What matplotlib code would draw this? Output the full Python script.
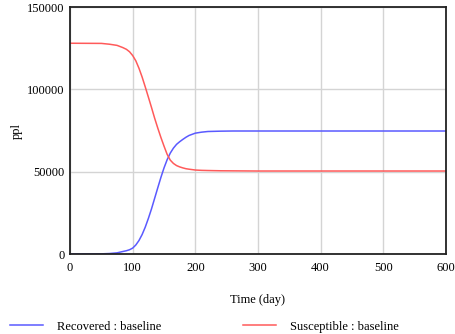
import matplotlib
matplotlib.use("Agg")
import matplotlib.pyplot as plt

# values (day, people)
days = [0, 50, 63, 75, 84, 90, 95, 100, 105, 110, 115, 120, 125, 130, 135,
        140, 145, 150, 155, 160, 165, 170, 175, 180, 185, 190, 200, 210, 220,
        240, 260, 300, 400, 500, 600]
susceptible = [128000, 127900, 127400, 126700, 125400, 124300, 122800, 120500,
               117300, 112800, 107500, 101500, 95300, 89000, 82500, 76500,
               70800, 65500, 60500, 57000, 55000, 53700, 52900, 52300, 51800,
               51500, 51000, 50800, 50700, 50550, 50500, 50400, 50400, 50400,
               50400]
recovered = [0, 100, 300, 700, 1500, 2000, 2600, 3600, 5500, 8200, 11800,
             16300, 21600, 27400, 33800, 40200, 46500, 52300, 57300, 61300,
             64300, 66600, 68200, 69600, 70900, 72000, 73400, 74000, 74400,
             74600, 74700, 74700, 74700, 74700, 74700]

plt.rcParams['font.family'] = ['Liberation Serif', 'DejaVu Serif']
plt.rcParams['font.size'] = 9

fig = plt.figure(figsize=(4.55, 3.34), dpi=100)
ax = fig.add_axes([0.154, 0.2395, 0.826, 0.7395])

line_r, = ax.plot(days, recovered, color='#5a5aff', lw=1.1, label='Recovered : baseline')
line_s, = ax.plot(days, susceptible, color='#ff5a5a', lw=1.1, label='Susceptible : baseline')

ax.set_xlim(0, 600)
ax.set_ylim(0, 150000)
ax.set_xticks([0, 100, 200, 300, 400, 500, 600])
ax.set_yticks([0, 50000, 100000, 150000])
ax.grid(True, color='#d4d4d4', lw=1)
ax.set_axisbelow(True)
ax.tick_params(length=0, labelsize=9)
ax.tick_params(axis='x', pad=6)
ax.tick_params(axis='y', pad=4)
for s in ax.spines.values():
    s.set_linewidth(1.3)
    s.set_color('#222222')

ax.set_xlabel('Time (day)', fontsize=9, labelpad=14)
ax.set_ylabel('ppl', fontsize=9, labelpad=3)

fig.legend(handles=[line_r, line_s], loc='lower left', bbox_to_anchor=(-0.002, -0.03),
           ncol=2, frameon=False, handlelength=2.6, handletextpad=1.1,
           columnspacing=6.6, fontsize=9)

plt.savefig('out.png', dpi=100)
